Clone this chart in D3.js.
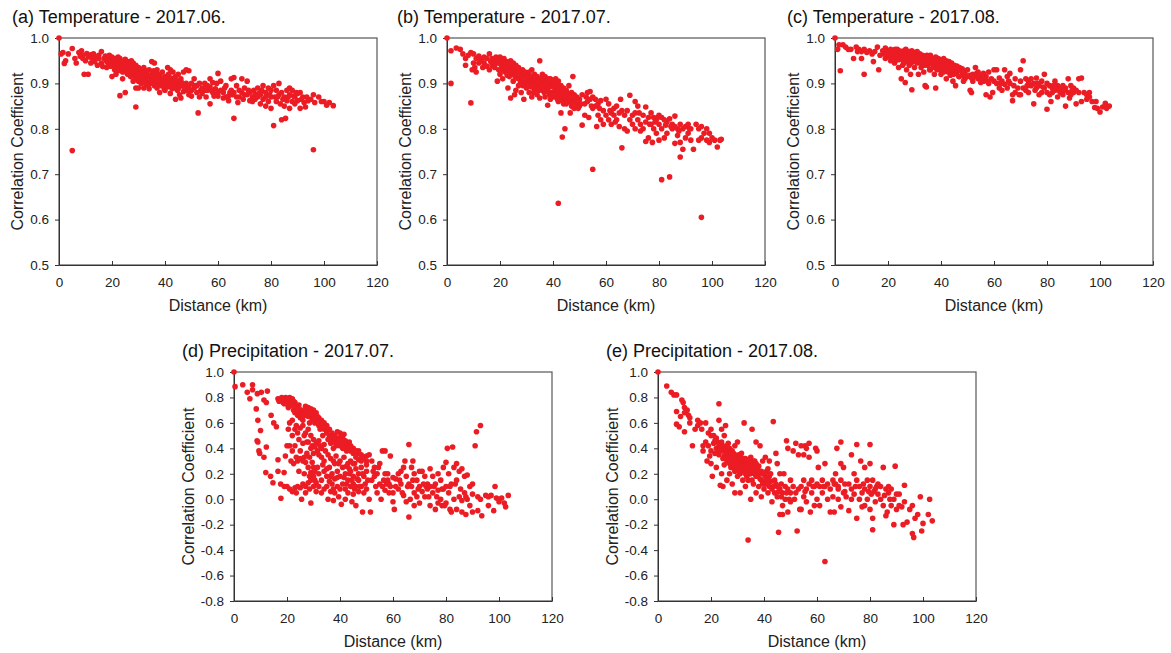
<!DOCTYPE html>
<html>
<head>
<meta charset="utf-8">
<script src="https://cdnjs.cloudflare.com/ajax/libs/d3/7.8.5/d3.min.js"></script>
<style>
body { margin: 0; background: #fff; }
svg { display: block; font-family: Arial, "Liberation Sans", sans-serif; }
.tick text { font-size: 13.5px; fill: #222; }
.tick line { stroke: #333; }
.title { font-size: 18px; fill: #111; }
.axis-label { font-size: 16px; fill: #222; }
</style>
</head>
<body>
<svg id="chart" width="1171" height="653"></svg>
<script>

// ---- data -----------------------------------------------------------------
var distTicks = [0, 20, 40, 60, 80, 100, 120];
var tempTicks = [0.5, 0.6, 0.7, 0.8, 0.9, 1.0];
var precipTicks = [-0.8, -0.6, -0.4, -0.2, 0.0, 0.2, 0.4, 0.6, 0.8, 1.0];

// [distance km, correlation]
var tempJun = [[0,1.0],[0.8,.965],[1.5,.968],[2,.944],[2.5,.95],[3.5,.965],[5,.977],[5,.752],[6,.955],[6.5,.945],[7.5,.968],[8,.96],[8.5,.972],[9,.962],[9,.955],[9.5,.92],[10,.95],[10.5,.966],[11,.92],[11,.958],
[12,.963],[12,.945],[12.5,.955],[13,.965],[13.5,.948],[14,.958],[14.5,.94],[15,.955],[15,.962],[16,.97],[16,.945],[16.5,.937],[17,.955],[17.5,.96],[18,.948],[18,.935],[18.5,.957],[19,.962],[19,.942],[19.5,.95],[20,.958],[20,.94],[20,.915],[20.5,.952],
[21,.945],[21,.93],[21.5,.955],[21.5,.92],[22,.948],[22,.938],[22.5,.952],[22.5,.928],[23,.942],[23,.873],[23,.955],[23.5,.935],[24,.948],[24,.925],[24,.91],[24.5,.94],[25,.953],[25,.93],[25,.88],[25.5,.942],[26,.935],[26,.92],[26,.948],[26.5,.928],[27,.942],[27,.915],[27,.935],[27.5,.925],[28,.945],[28,.93],[28,.905],[28.5,.92],[29,.848],[29,.94],[29,.925],[29,.89],[29.5,.912],[30,.935],[30,.92],[30,.905],[30,.89],
[31,.93],[31,.915],[31,.9],[31.5,.925],[32,.935],[32,.91],[32,.89],[32.5,.92],[33,.928],[33,.905],[33.5,.915],[34,.93],[34,.9],[34,.888],[35,.948],[35,.92],[35,.91],[35.5,.9],[36,.945],[36,.925],[36,.895],[36.5,.912],[37,.93],[37,.905],[37,.89],[38,.92],[38,.9],[38,.88],[38.5,.91],[39,.925],[39,.898],[39.5,.905],[40,.915],[40,.895],[40,.885],
[41,.935],[41,.91],[41,.9],[41.5,.893],[42,.93],[42,.905],[42,.878],[42.5,.895],[43,.925],[43,.9],[43,.89],[44,.915],[44,.898],[44,.865],[45,.92],[45,.905],[45,.888],[45.5,.875],[46,.91],[46,.895],[46,.868],[47,.925],[47,.895],[47,.882],[48,.93],[48,.9],[48,.885],[49,.928],[49,.892],[49,.875],[50,.9],[50,.885],[50,.872],
[51,.91],[51,.89],[52,.895],[52,.88],[52.5,.835],[53,.9],[53,.87],[54,.89],[54,.878],[55,.9],[55,.885],[55.5,.87],[56,.895],[56,.885],[57,.91],[57,.855],[57,.892],[58,.902],[58,.88],[58.5,.872],[59,.888],[59.5,.9],[60,.922],[60,.88],[60,.872],
[61,.905],[61,.885],[62,.88],[62,.868],[63,.895],[63,.87],[64,.872],[64,.862],[65,.91],[65,.885],[65.5,.875],[66,.913],[66,.88],[66,.823],[67,.895],[67,.87],[67.5,.858],[68,.885],[68,.87],[69,.91],[69,.88],[69.5,.865],[70,.89],[70,.875],
[71,.905],[71,.875],[72,.88],[72,.862],[73,.87],[73.5,.885],[74,.876],[74,.865],[75,.89],[75,.87],[76,.875],[76,.855],[76.5,.885],[77,.895],[77,.865],[78,.88],[78,.87],[78,.85],[79,.89],[79,.86],[80,.885],[80,.87],[80,.845],
[81,.895],[81,.807],[81.5,.87],[82,.885],[82,.86],[83,.9],[83,.875],[83.5,.855],[84,.82],[84,.88],[85,.87],[85,.85],[85.5,.823],[86,.885],[86,.862],[87,.89],[87,.875],[87,.845],[88,.885],[88,.86],[89,.87],[89,.855],[90,.878],[90,.862],
[91,.88],[91,.845],[92,.87],[92.5,.858],[93,.848],[94,.862],[95,.865],[96,.875],[96,.754],[96.5,.858],[98,.87],[99,.86],[100,.86],[101,.852],[102,.858],[103.5,.851],
[18.5,.945],[19.5,.938],[20.5,.945],[21.2,.94],[21.8,.935],[22.3,.958],[22.7,.94],[23.3,.93],[23.7,.948],[24.3,.938],[24.7,.93],[25.3,.945],[25.7,.922],[26.3,.94],[26.7,.935],[27.3,.95],[27.7,.938],[28.3,.938],[28.7,.912],[29.3,.932],[29.7,.92],[30.3,.928],[30.7,.91],[31.3,.922],[31.7,.908],[32.3,.918],[32.7,.9],[33.3,.92],[33.7,.895],[34.3,.915],[34.7,.905],[35.3,.915],[35.7,.928],[36.3,.905],[36.7,.92],[37.3,.898],[37.7,.912],[38.3,.905],[38.7,.895],[39.3,.912],[39.7,.888],[40.3,.905],[40.7,.892],[41.3,.92],[41.7,.905],[42.3,.912],[42.7,.888],[43.3,.908],[43.7,.895],[44.3,.905],[44.7,.885],[45.3,.895],[46.3,.902],[47.3,.89],[48.3,.892],[49.3,.885],[51.5,.895],[53.5,.885],[55.5,.892],[57.5,.885],[59,.875],[62.5,.89],[64.5,.88],[71.5,.885],[73,.86],[75.5,.878],[79.5,.875],[82.5,.87],[84.5,.865],[86.5,.87],[88.5,.872],[89.5,.88],[91.5,.865],[93.5,.87]];

var tempJul = [[0,1.0],[1.5,.972],[1.5,.9],[3.5,.978],[5,.975],[6,.965],[7,.955],[7,.94],[8,.962],[9,.968],[9,.857],[9.5,.93],[10,.965],[10,.945],[10.5,.935],[11,.955],[11,.925],[12,.96],[12,.945],[12.5,.955],[13,.95],[13.5,.935],[14,.958],[14,.945],[15,.955],[15,.938],[16,.965],[16,.93],[16.5,.948],[17,.955],[17,.94],[18,.95],[18,.935],[18.5,.958],[19,.945],[19,.905],[19.5,.93],[20,.958],[20,.945],[20,.92],
[21,.95],[21,.935],[21,.91],[21.5,.955],[22,.94],[22,.925],[22.5,.948],[23,.93],[23,.945],[23,.89],[23.5,.915],[24,.95],[24,.935],[24,.868],[24.5,.92],[25,.945],[25,.928],[25,.905],[25.5,.875],[26,.94],[26,.918],[26,.885],[26.5,.93],[27,.935],[27,.91],[27,.895],[27.5,.925],[28,.92],[28,.905],[28,.88],[28.5,.93],[29,.915],[29,.9],[29,.865],[29.5,.925],[30,.918],[30,.9],[30,.89],
[31,.925],[31,.91],[31,.88],[31.5,.9],[32,.93],[32,.915],[32,.895],[32,.87],[33,.92],[33,.905],[33,.885],[33.5,.895],[34,.915],[34,.9],[34,.875],[35,.95],[35,.91],[35,.89],[35,.868],[35.5,.9],[36,.92],[36,.905],[36,.885],[36.5,.895],[37,.915],[37,.89],[37,.87],[37.5,.905],[38,.9],[38,.885],[38,.852],[38.5,.895],[39,.91],[39,.88],[39,.865],[39.5,.9],[40,.895],[40,.88],[40,.87],
[41,.91],[41,.89],[41,.87],[41.5,.88],[42,.905],[42,.885],[42,.86],[42,.636],[42.5,.875],[43,.895],[43,.875],[43,.835],[43.5,.782],[44,.89],[44,.87],[44,.855],[44.5,.8],[45,.885],[45,.87],[45,.855],[45.5,.878],[46,.895],[46,.875],[46,.86],[46.5,.835],[47,.88],[47,.865],[47,.85],[47.5,.915],[48,.875],[48,.86],[48,.845],[49,.87],[49,.855],[50,.865],[50,.85],
[51,.875],[51,.808],[52,.855],[52,.83],[53,.88],[53,.86],[53.5,.825],[54,.882],[54,.865],[55,.87],[55,.845],[55,.711],[56,.865],[56,.85],[56.5,.805],[57,.855],[57,.83],[58,.862],[58,.82],[59,.84],[59,.81],[60,.865],[60,.83],
[61,.855],[61,.82],[62,.835],[62,.81],[63,.845],[63,.83],[64,.85],[64,.82],[65,.835],[65,.805],[65.5,.865],[66,.84],[66,.758],[67,.83],[67,.8],[68,.84],[68,.795],[69,.874],[69,.82],[70,.83],[70,.81],
[71,.86],[71,.835],[71,.8],[72,.85],[72,.82],[73,.81],[73,.795],[74,.83],[74,.8],[75,.848],[75,.815],[75,.772],[76,.825],[76,.78],[77,.835],[77,.81],[77.5,.77],[78,.825],[78,.8],[79,.82],[79,.79],[80,.83],[80,.81],[80,.775],
[81,.825],[81,.8],[81,.688],[82,.82],[82,.78],[83,.815],[83,.79],[84,.822],[84,.694],[85,.81],[85,.8],[86,.828],[86,.805],[86,.768],[87,.8],[87,.785],[88,.81],[88,.738],[88,.77],[89,.8],[89,.755],[90,.805],[90,.78],
[91,.81],[91,.79],[92,.8],[92,.775],[93,.755],[94,.81],[95,.8],[95,.775],[96,.805],[96,.78],[96,.605],[97,.79],[98,.8],[98,.775],[99,.79],[99,.77],[100,.78],[101,.775],[102,.76],[103,.775],[103.5,.777],
[18.5,.945],[19.5,.952],[20.5,.94],[21.2,.928],[21.8,.945],[22.3,.935],[22.7,.918],[23.3,.938],[23.7,.925],[24.3,.942],[24.7,.928],[25.3,.935],[25.7,.915],[26.3,.925],[26.7,.912],[27.3,.928],[27.7,.9],[28.3,.915],[28.7,.895],[29.3,.92],[29.7,.905],[30.3,.91],[30.7,.9],[31.3,.915],[31.7,.892],[32.3,.905],[32.7,.88],[33.3,.91],[33.7,.89],[34.3,.905],[34.7,.885],[35.3,.895],[35.7,.912],[36.3,.895],[36.7,.88],[37.3,.9],[37.7,.882],[38.3,.91],[38.7,.875],[39.3,.893],[39.7,.872],[40.3,.905],[40.7,.885],[41.3,.895],[41.7,.865],[42.3,.89],[42.7,.865],[43.3,.885],[43.7,.86],[44.3,.878],[44.7,.865],[45.3,.86],[46.3,.87],[47.3,.855],[48.5,.865],[49.5,.845],[50.5,.855],[52.5,.87],[54.5,.85],[57.5,.845],[61.5,.84],[63.5,.815],[72.5,.835],[76.5,.81],[78.5,.815],[79.5,.825],[82.5,.808],[84.5,.805],[87.5,.795],[91.5,.8]];

var tempAug = [[0,1.0],[1,.975],[1.5,.985],[2,.928],[3,.985],[4,.98],[5,.975],[6,.975],[7,.955],[8,.98],[8.5,.97],[9,.975],[10,.97],[10,.955],[11,.975],[11,.92],[12,.968],[13,.972],[14,.965],[14.5,.948],[15,.97],[16,.98],[16.5,.93],[17,.962],[18,.972],[18.5,.965],[19,.978],[19,.955],[20,.97],[20,.96],
[21,.975],[21,.962],[21,.95],[22,.97],[22,.958],[22.5,.945],[23,.972],[23,.96],[23.5,.975],[24,.965],[24,.952],[24,.935],[25,.97],[25,.96],[25,.91],[25.5,.94],[26,.972],[26,.958],[26,.945],[26.5,.902],[27,.968],[27,.955],[27,.93],[27.5,.962],[28,.97],[28,.952],[28,.94],[28.5,.92],[29,.972],[29,.96],[29,.886],[29.5,.948],[30,.968],[30,.955],[30,.935],
[31,.97],[31,.958],[31,.945],[31.5,.92],[32,.965],[32,.95],[32.5,.935],[33,.962],[33,.948],[33.5,.925],[34,.96],[34,.945],[34,.895],[34.5,.892],[35,.958],[35,.94],[36,.962],[36,.948],[36,.93],[37,.955],[37,.94],[37.5,.92],[38,.958],[38,.945],[38,.89],[38.5,.93],[39,.955],[39,.94],[40,.952],[40,.935],[40,.92],
[41,.955],[41,.94],[41,.925],[42,.95],[42,.935],[42,.91],[43,.948],[43,.93],[43.5,.918],[44,.945],[44,.93],[44.5,.905],[45,.94],[45,.922],[45.5,.895],[46,.938],[46,.925],[47,.935],[47,.915],[48,.932],[48,.918],[48.5,.905],[49,.925],[49,.91],[50,.93],[50,.915],
[51,.918],[51,.885],[51.5,.88],[52,.92],[52,.905],[53,.935],[53,.915],[54,.91],[54,.925],[55,.918],[55,.902],[56,.922],[56,.905],[57,.915],[57,.875],[58,.925],[58,.9],[58.5,.87],[59,.91],[59.5,.88],[60,.93],[60,.905],
[61,.93],[61,.9],[62,.912],[62,.89],[63,.905],[63,.885],[64,.93],[64,.898],[65,.915],[65,.89],[66,.922],[66,.9],[67,.875],[67,.862],[67.5,.895],[68,.91],[68,.88],[69,.89],[69.5,.875],[70,.93],[70,.905],[70,.875],
[71,.95],[71,.89],[72,.91],[72,.885],[73,.905],[73,.88],[74,.895],[74,.91],[75,.9],[75,.855],[75.5,.885],[76,.912],[76,.89],[77,.895],[77,.875],[78,.905],[78,.88],[79,.92],[79,.89],[80,.9],[80,.88],[80,.843],
[81,.895],[81,.875],[81.5,.86],[82,.89],[82,.88],[83,.905],[83,.885],[84,.895],[84,.87],[85,.89],[85,.88],[86,.895],[86,.875],[87,.85],[87,.89],[88,.91],[88,.88],[88.5,.868],[89,.895],[89,.875],[90,.89],[90,.88],
[91,.885],[91,.855],[92,.91],[92,.88],[93,.912],[93,.86],[94,.88],[95,.875],[95,.865],[96,.88],[96,.87],[97,.86],[98,.847],[98.5,.86],[99,.845],[100,.837],[101,.848],[102,.856],[102.5,.845],[103.5,.85],
[18.5,.97],[19.5,.965],[20.5,.968],[21.5,.955],[22.3,.965],[22.7,.975],[23.3,.952],[23.7,.965],[24.3,.972],[24.7,.958],[25.3,.965],[25.7,.95],[26.3,.962],[26.7,.975],[27.3,.948],[27.7,.97],[28.3,.962],[28.7,.945],[29.3,.955],[29.7,.966],[30.3,.96],[30.7,.948],[31.3,.965],[31.7,.952],[32.3,.958],[32.7,.942],[33.3,.955],[33.7,.94],[34.3,.952],[34.7,.962],[35.3,.95],[35.7,.93],[36.3,.955],[36.7,.942],[37.3,.95],[37.7,.935],[38.3,.95],[38.7,.94],[39.3,.948],[39.7,.93],[40.3,.945],[40.7,.928],[41.3,.948],[41.7,.935],[42.3,.943],[42.7,.925],[43.3,.94],[43.7,.928],[44.3,.938],[44.7,.92],[45.3,.932],[46.3,.93],[46.7,.915],[47.3,.928],[48.3,.925],[49.3,.918],[51.5,.912],[53.5,.922],[55.5,.91],[57.5,.905],[62.5,.9],[65.5,.905],[72.5,.895],[76.5,.9],[78.5,.892],[82.5,.895],[84.5,.885],[86.5,.885],[89.5,.885]];

var precipJul = [[0,1.0],[0.4,.885],[3.3,.9],[5,.84],[6,.79],[7,.9],[7,.86],[8.8,.83],[10.3,.84],[12.6,.85],[11.3,.78],[12.2,.76],[8.4,.71],[9,.62],[8.7,.46],[9,.45],[9.4,.38],[9.7,.36],[10,.54],[11.3,.33],[12.2,.41],[12,.21],[13.8,.18],[14.7,.13],[16.6,.22],[17.6,.12],[17.7,.008],[14,.66],[15,.6],[16,.57],[16.6,.31],[18.9,.21],[19.4,.34],[16.6,.79],
[17,.77],[18,.8],[18.5,.76],[19,.78],[19.5,.8],[20,.79],[20,.75],[20.5,.72],[21,.8],[21.5,.77],[22,.79],[22,.74],[22.5,.7],[23,.76],[23,.68],[24,.72],[24,.66],[24.5,.69],[25,.7],[25,.64],[25.5,.66],[26,.69],[26,.62],[26.5,.67],[27,.73],[27,.66],[27.5,.7],[28,.72],[28,.65],[28.5,.6],[29,.71],[29,.68],[29.5,.63],[30,.7],[30,.66],[30.5,.6],[31,.68],[31,.62],[32,.64],[32,.58],[32.5,.55],[33,.62],[33,.58],[33.5,.5],[34,.6],[34,.55],[35,.58],[35,.52],[35.5,.47],[36,.55],[36,.5],[36.5,.44],[37,.52],[37,.46],[37.5,.4],[38,.5],[38,.45],[38.5,.42],[39,.53],[39,.48],[39,.44],[40,.52],[40,.47],[40,.42],[40.5,.5],[41,.48],[41,.44],[41,.4],[41.5,.51],[42,.46],[42,.42],[42.5,.38],[43,.44],[43,.4],[43.5,.45],[44,.42],[44,.38],[45,.4],[45,.36],[46,.38],[46,.33],[47,.36],[47,.31],[48,.35],[48,.3],[49,.33],[50,.34],[50,.3],
[21,.6],[22,.62],[23,.55],[23.5,.58],[24,.52],[25,.56],[26,.58],[26.5,.5],[27,.52],[28,.55],[28,.45],[29,.5],[29.5,.42],[30,.47],[30,.36],[31,.44],[31.5,.38],[32,.46],[32,.35],[33,.4],[33,.33],[34,.43],[34,.3],
[20,.42],[21,.42],[21.5,.3],[22,.38],[22.5,.28],[23,.42],[23.5,.33],[24,.3],[25,.32],[25,.38],[26,.3],[26.5,.33],[27,.29],[27.5,.36],[28,.25],[28.5,.33],[29,.21],[29.5,.29],[30,.25],[30.5,.22],
[19,.1],[20,.1],[21,.08],[22,.06],[23,.09],[23.5,.05],[24,.1],[25,.09],[25.5,0],[26,.12],[27,.1],[27,.05],[28,.13],[28.5,.08],[29,-.03],[29,.15],[30,.1],[30,.18],[31,.06],[31,.13],[32,.2],[32,.1],[33,.15],[33,.05],[34,.22],[34,.08],[35,.18],[35,.1],[35.5,0],[36,.25],[36,.14],[36.5,.06],[37,.2],[37,.12],[37.5,-.01],[38,.28],[38,.16],[38,.05],[39,.22],[39,.1],[39.5,.02],[40,.3],[40,.18],[40,.08],[40.5,-.04],[41,.25],[41,.12],[42,.2],[42,.08],[42,0],[43,.28],[43,.15],[43,.05],[44,.22],[44,.1],[44.5,-.02],[45,.18],[45,.12],[45,.04],[45.5,.28],[46,.24],[46,.1],[46,-.05],[47,.2],[47,.15],[47,.06],[48,.25],[48,.1],[48.5,-.1],[49,.18],[49,.05],[50,.22],[50,.08],[51,0],[51.5,-.1],
[44,.3],[45,.28],[46,.37],[47,.38],[48,.32],[50,.27],[51,.35],[52,.3],[52,.15],[53,.25],[53,.18],[54,.2],[54,.05],[55,.28],[55,.12],[55.5,0],[56,.38],[56,.1],[57,.38],[57,.2],[57,.07],[58,.15],[58,.2],[58.5,.12],[59,.34],[59,.1],[60,.17],[60,.05],[60,-.02],[60.5,-.08],[61,.16],[61,.1],
[62,.2],[62,.08],[63,.22],[63,.12],[64,.25],[64,.03],[64.5,.3],[65,.18],[65,-.02],[66,.43],[66,.12],[66,-.14],[66.5,0],[67,.25],[67,.1],[67.5,.3],[68,.2],[68,.05],[68,-.05],[69,.15],[69,.02],[70,.22],[70,.1],[70,-.03],[71,.22],[71,.06],[72,.18],[72,.02],[73,.12],[73,.08],[74,.24],[74,.1],[74,-.05],[75,.18],[75,.05],[76,.12],[76,-.08],[77,.2],[77,.07],[77,-.03],[78,.15],[78,0],[78.5,-.05],[79,.25],[79,.08],[80,.29],[80,.1],[80,-.03],[80.5,.4],
[81,.2],[81,.05],[81.5,-.08],[82,.12],[82,-.1],[82.5,.41],[83,.25],[83,0],[84,.28],[84,.15],[84,-.08],[85,.22],[85,.02],[86,.24],[86,-.01],[86,-.1],[87,.18],[87,.05],[87.5,-.12],[88,.19],[88,0],[89,.1],[89,-.05],[90,.12],[90,.04],[90,-.1],[91,.42],[91.5,.53],[92,-.09],[92,.02],[93,.58],[93,0],[93.5,-.13],[95,.03],[96,.02],[96,-.05],[97,.03],[98,-.09],[98.5,.1],[99,.01],[100,-.02],[100,0],[101,.01],[102,-.03],[102.5,-.06],[103.5,.03],
[19,.75],[20.5,.77],[21.5,.74],[22.5,.77],[23.5,.72],[24.5,.74],[25.5,.7],[26,.65],[27,.69],[28.5,.68],[29.5,.66],[30,.63],[31.5,.65],[32.5,.6],[33.5,.6],[34.5,.57],[35.5,.55],[36,.48],[37,.49],[38,.47],[39.5,.46],[40.5,.44],[41.5,.46],[42.5,.44],[43.5,.41],[44.5,.4],[45.5,.38],[20.5,.55],[22,.5],[24.5,.47],[26,.44],[27.5,.45],[29,.4],[30.5,.41],[32.5,.42],[34.5,.38],[35.5,.35],[36.5,.32],[37.5,.3],[38.5,.34],[39.5,.28],[41.5,.33],[42.5,.26],[43.5,.24],[24.5,.22],[26.5,.2],[28.5,.18],[30.5,.15],[31.5,.25],[33.5,.27],[35,.24],[36.5,.18],[37.5,.08],[39,.17],[41.5,.17],[42.5,.12],[43.5,.2],[44.5,.15],[45.5,.08],[46.5,.16],[47.5,.1],[48.5,.2],[49.5,.12],[50.5,.15],[52.5,.22],[53.5,.1],[54.5,.25],[56.5,.15],[57.5,.12],[58.5,.05],[62.5,.15],[63.5,.05],[65.5,.1],[67.5,.15],[69.5,.08],[71.5,.12],[72.5,.1],[73.5,.02],[75.5,.1],[76.5,.02],[78.5,.08],[79.5,-.05],[81.5,.1],[83.5,.12],[85.5,.08],[87.5,.02]];

var precipAug = [[0,1.0],[3.3,.89],[5,.84],[6,.82],[7,.82],[7,.69],[7,.59],[8,.57],[8.5,.65],[9,.78],[9.5,.76],[10,.72],[10,.68],[10,.53],[11,.7],[11.5,.66],[12,.64],[12,.6],[13,.42],[14,.55],[15,.62],[15,.58],[16,.6],[16.5,.55],[17,.42],[17,.38],[18,.6],[18,.45],[18.5,.3],[19,.52],[19,.42],[19.5,.34],[20,.55],[20,.5],[20,.38],[20,.28],[20.5,.18],
[21,.5],[21,.44],[21.5,.36],[22,.48],[22,.4],[22,.25],[22.5,.45],[23,.62],[23,.42],[23,.35],[23,.75],[23.5,.11],[24,.55],[24,.45],[24,.38],[24,.2],[24.5,.1],[25,.5],[25,.4],[25,.34],[25,.27],[25.5,.58],[26,.42],[26,.36],[26,.3],[26,.15],[26.5,.38],[27,.4],[27,.33],[27,.28],[27,.2],[27.5,.35],[28,.38],[28,.3],[28,.25],[28,.12],[28.5,.32],[29,.42],[29,.35],[29,.28],[29,.22],[29,.05],[29.5,.3],[30,.45],[30,.32],[30,.25],[30,.18],[30.5,.28],[31,.33],[31,.27],[31,.2],[31,.05],[31.5,.3],[32,.3],[32,.24],[32,.15],[32.5,.6],[32.5,.27],[33,.32],[33,.25],[33,.2],[33,.1],[33.5,.28],[34,.3],[34,.22],[34,.15],[34,-.32],[34.5,.26],[35,.33],[35,.27],[35,.2],[35,0],[35.5,.55],[35.5,.24],[36,.3],[36,.23],[36,.12],[36.5,.2],[37,.45],[37,.28],[37,.18],[37,.05],[37.5,.22],[38,.26],[38,.2],[38,.1],[38.5,.42],[38.5,.16],[39,.22],[39,.15],[39,.02],[39.5,.3],[40,.2],[40,.14],[40,.08],[40.5,.33],[40.5,.18],[41,.12],[41,.22],[41.5,.05],[42,.18],[42,.1],[42,.3],[42.5,.14],[43,.08],[43,-.02],[43.5,.61],[44,.15],[44,.05],[44.5,.36],[45,.1],[45,.02],[45,.28],[45.5,-.26],[46,.08],[46,.2],[46,-.12],[46.5,.12],[47,.05],[47,-.05],[47,-.12],[47.5,.2],[48,.1],[48,0],[48.5,.46],[49,.08],[49,.4],[49,-.1],[50,.05],[50,.15],[50,-.02],
[51,.38],[51,.1],[51.5,0],[52,.44],[52,.05],[52.5,-.25],[53,.35],[53,.08],[53.5,-.08],[54,.42],[54,.1],[54,-.08],[55,.35],[55,.15],[55,.02],[55.5,.42],[56,.4],[56,.08],[56,-.02],[57,.44],[57,.33],[57,.12],[57.5,-.1],[58,.05],[58,.15],[59,.1],[59,-.05],[59.5,.4],[60,.38],[60,.12],[60,0],[60.5,.25],[61,.1],[61,-.05],
[62,.15],[62,.05],[63,.28],[63,.1],[63,-.49],[64,0],[64,.12],[65,.08],[65,-.1],[66,.15],[66,.02],[66.5,-.1],[67,.2],[67,.12],[67.5,.4],[68,.1],[68,0],[68,.08],[69,.45],[69,.28],[69,.15],[69,-.06],[70,.25],[70,.05],[70.5,.12],[71,.02],[72,.12],[72,-.09],[73,.35],[73,.08],[73,0],[74,.2],[74,.04],[75,.43],[75,.15],[75,-.15],[76,.1],[76,0],[76.5,.3],[77,.05],[77,-.06],[78,.25],[78,.08],[78,-.05],[79,.15],[79,0],[80,.43],[80,.28],[80,.1],[80,-.08],[80.5,.04],
[81,.15],[81,-.15],[81,-.24],[81.5,.06],[82,.08],[82,-.02],[83,.04],[83,.12],[84,0],[84,.1],[85,-.05],[85,.25],[86,.08],[86,-.13],[86.5,-.1],[87,.1],[87,.05],[88,.08],[88,-.05],[89,0],[89,-.2],[89.5,.26],[90,.04],[90,-.08],[91,.04],[91,-.05],[92,-.06],[92.5,-.2],[93,.11],[93,-.02],[94,-.18],[95,-.08],[96,-.05],[96,-.27],[96.5,-.3],[97,-.15],[98,-.12],[99,.02],[99.5,-.25],[100,-.19],[102,-.12],[102.5,0],[103.5,-.17],
[21.5,.46],[22.5,.38],[23.5,.4],[24.5,.42],[24.5,.32],[25.5,.37],[26.5,.32],[26.5,.44],[27.5,.3],[27.5,.25],[28.5,.36],[28.5,.27],[29.5,.33],[29.5,.25],[30.5,.35],[30.5,.22],[31.5,.26],[31.5,.36],[32.5,.22],[32.5,.32],[33.5,.24],[33.5,.18],[34.5,.3],[34.5,.2],[35.5,.28],[35.5,.15],[36.5,.26],[36.5,.3],[37.5,.18],[37.5,.26],[38.5,.22],[39.5,.2],[39.5,.12],[40.5,.12],[41.5,.15],[41.5,.24],[42.5,.2],[43.5,.1],[44.5,.12],[45.5,.06],[46.5,.02],[48.5,.05],[49.5,0],[55.5,.06],[58.5,.1],[62.5,.1],[66.5,.12],[70.5,.06],[74.5,.1],[77.5,.12],[79.5,.06],[82.5,.1],[85.5,.03],[87.5,0]];

// ---- layout ---------------------------------------------------------------
var panels = [
  {title: "(a) Temperature - 2017.06.", data: tempJun, ticks: tempTicks, left: 59, top: 38, h: 227, ylab: 36, tx: -47},
  {title: "(b) Temperature - 2017.07.", data: tempJul, ticks: tempTicks, left: 447, top: 38, h: 227, ylab: 36, tx: -50},
  {title: "(c) Temperature - 2017.08.", data: tempAug, ticks: tempTicks, left: 835, top: 38, h: 227, ylab: 36, tx: -48},
  {title: "(d) Precipitation - 2017.07.", data: precipJul, ticks: precipTicks, left: 234, top: 372, h: 229, ylab: 40, tx: -52},
  {title: "(e) Precipitation - 2017.08.", data: precipAug, ticks: precipTicks, left: 658, top: 372, h: 229, ylab: 40, tx: -52}
];
var W = 318;
var fmt = function(d){ return d.toFixed(1); };

var svg = d3.select("#chart");

panels.forEach(function(p){
  var x = d3.scaleLinear().domain([0, 120]).range([0, W]);
  var y = d3.scaleLinear().domain(d3.extent(p.ticks)).range([p.h, 0]);

  var g = svg.append("g").attr("transform", "translate(" + p.left + "," + p.top + ")");

  g.append("rect")
    .attr("x", 0).attr("y", 0).attr("width", W).attr("height", p.h)
    .attr("fill", "none").attr("stroke", "#555").attr("stroke-width", 1.2);

  var xa = g.append("g").attr("transform", "translate(0," + p.h + ")")
    .call(d3.axisBottom(x).tickValues(distTicks).tickSizeInner(-4).tickSizeOuter(0).tickPadding(12));
  xa.select(".domain").attr("stroke", "#333");

  var ya = g.append("g")
    .call(d3.axisLeft(y).tickValues(p.ticks).tickFormat(fmt).tickSizeInner(4).tickSizeOuter(0).tickPadding(6));
  ya.select(".domain").attr("stroke", "#333");

  svg.selectAll(".tick text").attr("font-family", null).attr("font-size", null);

  g.append("g").selectAll("circle")
    .data(p.data)
    .join("circle")
    .attr("cx", function(d){ return x(d[0]); })
    .attr("cy", function(d){ return y(d[1]); })
    .attr("r", 2.8)
    .attr("fill", "#ec1c24");

  g.append("text").attr("class", "title")
    .attr("x", p.tx).attr("y", -15)
    .text(p.title);

  g.append("text").attr("class", "axis-label")
    .attr("x", W / 2).attr("y", p.h + 46)
    .attr("text-anchor", "middle")
    .text("Distance (km)");

  g.append("text").attr("class", "axis-label")
    .attr("transform", "translate(" + (-p.ylab) + "," + (p.h / 2) + ") rotate(-90)")
    .attr("text-anchor", "middle")
    .text("Correlation Coefficient");
});

</script>
</body>
</html>
